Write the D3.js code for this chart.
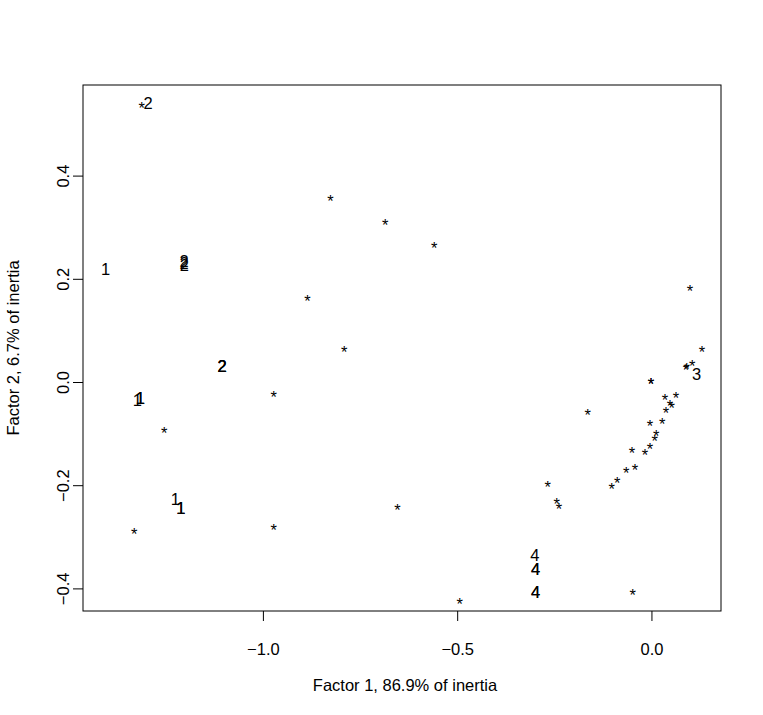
<!DOCTYPE html>
<html>
<head>
<meta charset="utf-8">
<script src="https://cdn.jsdelivr.net/npm/d3@7"></script>
<style>
  html, body { margin: 0; padding: 0; background: #fff; }
  svg text { font-family: "Liberation Sans", Arial, Helvetica, sans-serif; }
</style>
</head>
<body>
<svg id="chart" width="763" height="715"></svg>
<script>
// Column points (plotted as "*")
const starX = [-1.312, -0.826, -0.685, -0.559, -0.885, -0.791, -0.972, -1.254, -0.972, -1.331,
  -0.654, -0.4937, -0.0484, -0.267, -0.244, -0.238, -0.164, 0.0991, 0.130, 0.105,
  0.0888, 0.0905, -0.0013, -0.0013, 0.0347, 0.063, 0.0476, 0.052, 0.0373, -0.0039,
  0.0278, 0.0124, 0.0082, -0.0039, -0.0502, -0.0167, -0.0425, -0.0649, -0.088, -0.1024];
const starY = [0.537, 0.3576, 0.311, 0.2655, 0.1638, 0.0645, -0.0219, -0.0917, -0.280, -0.2888,
  -0.2422, -0.4238, -0.4064, -0.196, -0.2306, -0.2403, -0.0576, 0.1835, 0.064, 0.0382,
  0.029, 0.031, 0.0019, 0.0019, -0.029, -0.0238, -0.0393, -0.0446, -0.0543, -0.0781,
  -0.0756, -0.0975, -0.1072, -0.1227, -0.1312, -0.1343, -0.1641, -0.1692, -0.190, -0.2016];

// Row points (plotted as their cluster labels)
const labelText = ["2", "1", "2", "2", "2", "2", "2", "2", "1", "1", "1", "1", "1", "1", "3", "4", "4", "4", "4", "4"];
const labelX = [-1.2955, -1.405, -1.2026, -1.2026, -1.2020, -1.105, -1.105, -1.105, -1.323, -1.3155,
  -1.3155, -1.2256, -1.2115, -1.2115, 0.1163, -0.2999, -0.298, -0.298, -0.298, -0.298];
const labelY = [0.540, 0.2184, 0.2335, 0.2295, 0.2257, 0.0316, 0.0316, 0.0316, -0.0349, -0.0320,
  -0.0320, -0.2275, -0.2439, -0.2439, 0.0155, -0.3353, -0.3624, -0.3624, -0.4064, -0.4064];

const xTicks = [-1.0, -0.5, 0.0];
const yTicks = [-0.4, -0.2, 0.0, 0.2, 0.4];
const xTitle = "Factor 1, 86.9% of inertia";
const yTitle = "Factor 2, 6.7% of inertia";

const FS = 16.5;
const svg = d3.select("#chart");
const pLeft = 83, pRight = 721, pTop = 85, pBottom = 611;

const x = d3.scaleLinear().domain([-1.463, 0.179]).range([pLeft, pRight]);
const y = d3.scaleLinear().domain([-0.4438, 0.5756]).range([pBottom, pTop]);

const fmt = d => (d < 0 ? "\u2212" : "") + Math.abs(d).toFixed(1);

// Box
svg.append("rect")
  .attr("x", pLeft).attr("y", pTop)
  .attr("width", pRight - pLeft).attr("height", pBottom - pTop)
  .attr("fill", "none").attr("stroke", "#000").attr("stroke-width", 1);

// X axis
const gx = svg.append("g").attr("transform", `translate(0,${pBottom})`)
  .call(d3.axisBottom(x).tickValues(xTicks).tickSize(10).tickPadding(22).tickFormat(fmt));
gx.select(".domain").remove();
gx.selectAll("text").attr("font-size", FS).attr("font-family", "Liberation Sans, Arial, sans-serif").attr("fill", "#000");
gx.selectAll("line").attr("stroke", "#000");

// Y axis
const gy = svg.append("g").attr("transform", `translate(${pLeft},0)`)
  .call(d3.axisLeft(y).tickValues(yTicks).tickSize(10).tickPadding(0).tickFormat(fmt));
gy.select(".domain").remove();
gy.selectAll("line").attr("stroke", "#000");
gy.selectAll("text")
  .attr("font-size", FS).attr("font-family", "Liberation Sans, Arial, sans-serif").attr("fill", "#000")
  .attr("text-anchor", "middle")
  .attr("dy", null)
  .attr("x", null)
  .attr("transform", "translate(-14,0) rotate(-90)")
  .attr("y", 0);

// Axis titles
svg.append("text")
  .attr("x", (pLeft + pRight) / 2 + 3).attr("y", 691)
  .attr("text-anchor", "middle").attr("font-size", FS).attr("fill", "#000")
  .text(xTitle);
svg.append("text")
  .attr("transform", `translate(19,${(pTop + pBottom) / 2}) rotate(-90)`)
  .attr("text-anchor", "middle").attr("font-size", FS).attr("fill", "#000")
  .text(yTitle);

// Stars
svg.append("g").selectAll("text")
  .data(d3.range(starX.length))
  .join("text")
  .attr("x", i => x(starX[i]))
  .attr("y", i => y(starY[i]) + 9.4)
  .attr("text-anchor", "middle")
  .attr("font-size", FS).attr("fill", "#000")
  .text("*");

// Labels
svg.append("g").selectAll("text")
  .data(d3.range(labelText.length))
  .join("text")
  .attr("x", i => x(labelX[i]))
  .attr("y", i => y(labelY[i]) + 5.9)
  .attr("text-anchor", "middle")
  .attr("font-size", FS).attr("fill", "#000")
  .text(i => labelText[i]);
</script>
</body>
</html>
